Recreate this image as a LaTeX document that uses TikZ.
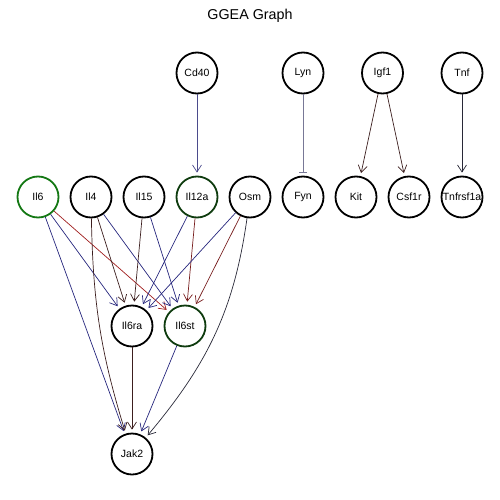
\documentclass[tikz,border=0pt]{standalone}
\usepackage{fontspec}
\setmainfont{Liberation Sans}
\usetikzlibrary{arrows.meta}
\definecolor{actblue}{RGB}{38,38,125}
\definecolor{palblue}{RGB}{75,75,140}
\definecolor{inhgray}{RGB}{120,120,150}
\definecolor{actred}{RGB}{160,30,30}
\definecolor{darkred}{RGB}{120,30,30}
\definecolor{darkbrown}{RGB}{60,30,30}
\definecolor{nearblack}{RGB}{40,40,55}
\definecolor{ringgreen}{RGB}{20,120,20}
\definecolor{ringdark}{RGB}{15,60,15}
\tikzstyle{gene} = [circle, draw, line width=1.8pt, minimum size=41pt,
  inner sep=0pt, font=\fontsize{10.5}{12}\selectfont]
\tikzstyle{line} = [draw, -{Straight Barb[length=7pt,width=9pt]},
  line width=0.7pt, shorten >=3pt]
\tikzstyle{inhibit} = [draw, -{Bar[width=8pt]}, line width=0.7pt,
  shorten >=3pt]
\begin{document}
\begin{tikzpicture}[x=1pt, y=1pt, node distance=53pt]
    \useasboundingbox (0,0) rectangle (500,-500);
    \node[anchor=base, font=\fontsize{14.3}{16}\selectfont] (title) at (250,-19.5) {GGEA Graph};

    % second row
    \node[gene, draw=ringgreen] (il6) at (38,-197) {Il6};
    \node[gene, right of=il6] (il4) {Il4};
    \node[gene, right of=il4] (il15) {Il15};
    \node[gene, draw=ringdark, right of=il15] (il12a) {Il12a};
    \node[gene, right of=il12a] (osm) {Osm};
    \node[gene, right of=osm] (fyn) {Fyn};
    \node[gene, right of=fyn] (kit) {Kit};
    \node[gene, right of=kit] (csf1r) {Csf1r};
    \node[gene, right of=csf1r] (tnfrsf1a) {Tnfrsf1a};

    % top row
    \node[gene, above of=il12a, node distance=124pt] (cd40) {Cd40};
    \node[gene, above of=fyn, node distance=124pt] (lyn) {Lyn};
    \node[gene, right of=lyn, node distance=79.5pt] (igf1) {Igf1};
    \node[gene, above of=tnfrsf1a, node distance=124pt] (tnf) {Tnf};

    % receptors and Jak2
    \node[gene] (il6ra) at (132,-326) {Il6ra};
    \node[gene, draw=ringdark, right of=il6ra] (il6st) {Il6st};
    \node[gene, below of=il6ra, node distance=128pt] (jak2) {Jak2};

    \path[line, palblue] (cd40) -- (il12a);
    \path[inhibit, inhgray] (lyn) -- (fyn);
    \path[line, darkbrown] (igf1) -- (kit);
    \path[line, darkbrown] (igf1) -- (csf1r);
    \path[line, nearblack] (tnf) -- (tnfrsf1a);

    \path[line, actblue] (il6) -- (il6ra);
    \path[line, actred] (il6) -- (il6st);
    \path[line, actblue] (il6) -- (jak2);
    \path[line, darkbrown] (il4) -- (il6ra);
    \path[line, actblue] (il4) -- (il6st);
    \path[line, darkbrown] (il4) to[bend right=8] (jak2);
    \path[line, darkbrown] (il15) -- (il6ra);
    \path[line, actblue] (il15) -- (il6st);
    \path[line, actblue] (il12a) -- (il6ra);
    \path[line, darkred] (il12a) -- (il6st);
    \path[line, actblue] (osm) -- (il6ra);
    \path[line, darkred] (osm) -- (il6st);
    \path[line, nearblack] (osm) to[out=-98, in=50] (jak2);

    \path[line, darkbrown] (il6ra) -- (jak2);
    \path[line, actblue] (il6st) -- (jak2);
\end{tikzpicture}
\end{document}
